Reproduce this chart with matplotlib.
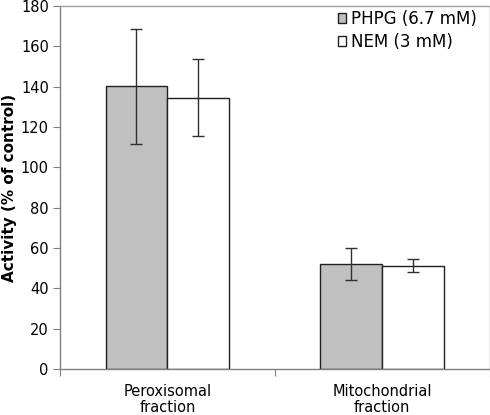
import matplotlib
matplotlib.use('Agg')
import matplotlib.pyplot as plt
import numpy as np

plt.rcParams['font.family'] = ['DejaVu Sans']

categories = ['Peroxisomal\nfraction', 'Mitochondrial\nfraction']
phpg = [140.3, 51.9]
phpg_err = [28.5, 8.0]
nem = [134.6, 51.2]
nem_err = [18.9, 3.3]

fig = plt.figure(figsize=(4.9, 4.15), dpi=100)
ax = fig.add_axes([0.1224, 0.1108, 0.8766, 0.8747])

x = np.arange(len(categories))
w = 0.288
ekw = dict(ecolor='#303030', elinewidth=1.0, capsize=4, capthick=1.0)
ax.bar(x - w/2, phpg, w, yerr=phpg_err, color='#c0c0c0', edgecolor='#202020',
       linewidth=1.0, error_kw=ekw, label='PHPG (6.7 mM)')
ax.bar(x + w/2, nem, w, yerr=nem_err, color='white', edgecolor='#202020',
       linewidth=1.0, error_kw=ekw, label='NEM (3 mM)')

ax.set_xlim(-0.5, 1.5)
ax.set_ylim(0, 180)
ax.set_yticks(np.arange(0, 181, 20))
ax.set_xticks([-0.5, 0.5, 1.5])
ax.set_xticklabels([])
ax.set_xticks(x, minor=True)
ax.set_xticklabels(categories, minor=True, fontsize=10.5, linespacing=1.1)
ax.tick_params(axis='x', which='minor', length=0, pad=11)
ax.tick_params(axis='x', which='major', length=5, color='#808080')
ax.tick_params(axis='y', length=5, color='#808080', labelsize=10.5, pad=3)

for s in ax.spines.values():
    s.set_color('#a0a0a0')
    s.set_linewidth(1.0)
ax.spines['left'].set_color('#808080')
ax.spines['bottom'].set_color('#808080')

ax.set_ylabel('Activity (% of control)', fontsize=11, fontweight='bold', labelpad=3)

ax.legend(loc='upper right', frameon=False, fontsize=12, handlelength=0.5,
          handleheight=0.5, handletextpad=0.3, labelspacing=0.3, borderpad=0,
          bbox_to_anchor=(0.99, 1.012))

fig.savefig('out.png', dpi=100)
